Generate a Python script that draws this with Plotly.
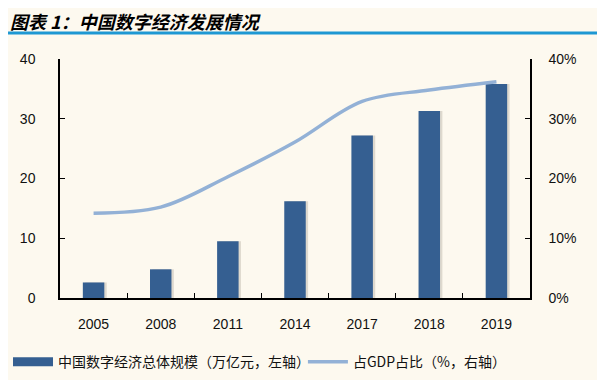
import plotly.graph_objects as go

years = ["2005", "2008", "2011", "2014", "2017", "2018", "2019"]
scale = [2.6, 4.8, 9.5, 16.2, 27.2, 31.3, 35.8]
gdp_share = [14.2, 15.2, 20.3, 26.1, 32.9, 34.8, 36.2]
left_ticks = [0, 10, 20, 30, 40]
right_ticks = [0, 10, 20, 30, 40]
right_labels = ["0%", "10%", "20%", "30%", "40%"]

bar_name = "中国数字经济总体规模（万亿元，左轴）"
line_name = "占GDP占比（%，右轴）"
bar_color = "#355F91"
line_color = "#93B1D6"
bg = "#FDF9EF"
font_fam = "Liberation Sans, Arial, Noto Sans CJK SC"
legend_font = dict(size=14, family="Noto Sans CJK SC, Liberation Sans", color="#111111")

fig = go.Figure()
# soft shadow behind bars
fig.add_trace(go.Bar(x=years, y=scale, width=0.32, offset=-0.125,
                     marker=dict(color="rgba(60,50,40,0.16)", line=dict(width=0)),
                     showlegend=False, hoverinfo="skip"))
fig.add_trace(go.Bar(x=years, y=scale, width=0.32, offset=-0.16,
                     marker=dict(color=bar_color, line=dict(width=0)),
                     showlegend=False, name=bar_name))
fig.add_trace(go.Scatter(x=years, y=gdp_share, yaxis="y2", mode="lines",
                         line=dict(color=line_color, width=3.5, shape="spline", smoothing=1.0),
                         showlegend=False, name=line_name))
# legend entries
fig.add_trace(go.Scatter(x=[None], y=[None], mode="lines", name=bar_name,
                         line=dict(color=bar_color, width=9), legend="legend"))
fig.add_trace(go.Scatter(x=[None], y=[None], mode="lines", name=line_name,
                         line=dict(color=line_color, width=3.5), yaxis="y2", legend="legend2"))

fig.update_layout(
    width=597, height=372,
    paper_bgcolor=bg, plot_bgcolor=bg,
    margin=dict(l=52, r=75, t=51, b=82, autoexpand=False),
    barmode="overlay",
    font=dict(family=font_fam, size=14, color="#111111"),
    xaxis=dict(type="category", showline=True, linecolor="#000000", linewidth=1.5,
               ticks="inside", ticklen=5, tickcolor="#000000", tickson="boundaries",
               showgrid=False, tickfont=dict(size=14), ticklabelstandoff=12, automargin=False),
    yaxis=dict(range=[0, 40], tickvals=left_ticks, showline=True, linecolor="#000000",
               linewidth=1.5, ticks="inside", ticklen=5, tickcolor="#000000",
               showgrid=False, zeroline=False, tickfont=dict(size=14), ticklabelstandoff=20,
               automargin=False),
    yaxis2=dict(range=[0, 40], tickvals=right_ticks, ticktext=right_labels, overlaying="y",
                side="right", showline=True, linecolor="#000000", linewidth=1.5,
                ticks="inside", ticklen=5, tickcolor="#000000", showgrid=False,
                zeroline=False, tickfont=dict(size=14), ticklabelstandoff=14, automargin=False),
    legend=dict(orientation="h", xref="container", yref="container", x=0.0, xanchor="left",
                y=0.048, yanchor="middle", font=legend_font,
                itemwidth=40, bgcolor="rgba(0,0,0,0)"),
    legend2=dict(orientation="h", xref="container", yref="container", x=0.494, xanchor="left",
                 y=0.048, yanchor="middle", font=legend_font,
                 itemwidth=40, bgcolor="rgba(0,0,0,0)"),
    shapes=[dict(type="line", xref="paper", yref="paper", x0=-0.1106, x1=1.1596,
                 y0=1.1088, y1=1.1088, line=dict(color="#1E98D3", width=3))],
    annotations=[dict(text="<b><i>图表 1：中国数字经济发展情况</i></b>", xref="paper", yref="paper",
                      x=-0.1106, y=1.161, xanchor="left", yanchor="middle", showarrow=False,
                      font=dict(size=18, family="Noto Sans CJK SC", color="#000000"))],
)

fig.write_html("out.html")
